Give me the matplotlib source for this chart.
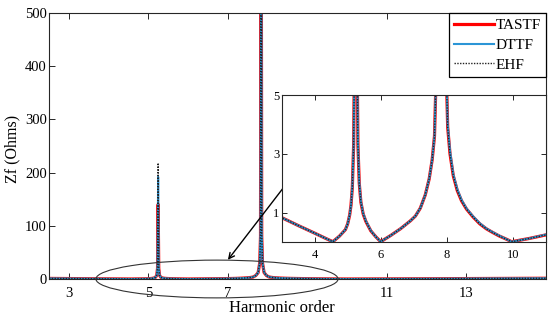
import matplotlib
matplotlib.use("Agg")
import matplotlib.pyplot as plt
from matplotlib.patches import Ellipse

# ---- data ----
harmonic = [2.5, 3.0, 3.5, 4.0, 4.3, 4.55, 4.75, 4.93, 5.0, 5.06, 5.10, 5.14,
            5.18, 5.21, 5.23, 5.245, 5.26, 5.28, 5.31, 5.35, 5.40, 5.47, 5.55,
            5.7, 5.85, 6.0, 6.3, 6.6, 6.9, 7.05, 7.2, 7.35, 7.47, 7.56, 7.63,
            7.70, 7.76, 7.80, 7.82, 7.835, 7.85, 7.87, 7.91, 7.97, 8.03, 8.1,
            8.2, 8.32, 8.45, 8.6, 8.8, 9.0, 9.2, 9.4, 9.6, 9.8, 9.97, 10.5,
            11.0, 12.0, 13.0, 14.0, 15.0]

tastf = [1.10, 0.83, 0.56, 0.30, 0.14, 0.01, 0.20, 0.42, 0.62, 0.92, 1.25, 1.85,
         3.3, 7.0, 20.0, 140.0, 20.0, 7.0, 3.3, 2.0, 1.35, 0.95, 0.70,
         0.38, 0.18, 0.01, 0.22, 0.45, 0.72, 0.88, 1.15, 1.6, 2.15, 2.8, 3.6,
         6.5, 12.0, 30.0, 80.0, 900.0, 80.0, 30.0, 12.0, 6.5, 3.9, 3.0,
         2.25, 1.75, 1.4, 1.12, 0.85, 0.62, 0.45, 0.32, 0.20, 0.10, 0.01, 0.12,
         0.24, 0.50, 0.80, 1.10, 1.40]

dttf = [1.10, 0.83, 0.56, 0.30, 0.14, 0.01, 0.20, 0.42, 0.62, 0.92, 1.25, 1.85,
        3.3, 7.0, 22.0, 192.0, 22.0, 7.2, 3.4, 2.05, 1.38, 0.97, 0.72,
        0.39, 0.18, 0.01, 0.22, 0.45, 0.72, 0.88, 1.15, 1.6, 2.15, 2.8, 3.6,
        6.5, 12.0, 30.0, 85.0, 950.0, 85.0, 31.0, 12.5, 6.7, 4.0, 3.1,
        2.3, 1.8, 1.43, 1.14, 0.87, 0.64, 0.46, 0.33, 0.21, 0.10, 0.01, 0.12,
        0.25, 0.50, 0.80, 1.10, 1.40]

ehf = [1.10, 0.83, 0.56, 0.30, 0.14, 0.01, 0.20, 0.42, 0.62, 0.92, 1.25, 1.85,
       3.3, 7.0, 22.0, 218.0, 22.0, 7.0, 3.3, 2.0, 1.35, 0.95, 0.70,
       0.38, 0.18, 0.01, 0.22, 0.45, 0.72, 0.88, 1.15, 1.6, 2.15, 2.8, 3.6,
       6.5, 12.0, 30.0, 85.0, 1000.0, 85.0, 30.0, 12.0, 6.5, 3.9, 3.0,
       2.25, 1.75, 1.4, 1.12, 0.85, 0.62, 0.45, 0.32, 0.20, 0.10, 0.01, 0.12,
       0.24, 0.50, 0.80, 1.10, 1.40]

main_xticks = [3, 5, 7, 11, 13]
main_yticks = [0, 100, 200, 300, 400, 500]
inset_xticks = [4, 6, 8, 10]
inset_yticks = [1, 3, 5]

series_labels = ["TASTF", "DTTF", "EHF"]

# ---- style ----
plt.rcParams['font.family'] = ['Liberation Serif', 'DejaVu Serif']
RED = '#ff0000'
BLUE = '#2b95d6'
SPINE = '#262626'

fig = plt.figure(figsize=(5.5, 3.16), dpi=100)
ax = fig.add_axes([49/550, 1 - 279/316, 497/550, 266/316])

def draw(a):
    l1, = a.plot(harmonic, tastf, color=RED, lw=2.3, label=series_labels[0])
    l2, = a.plot(harmonic, dttf, color=BLUE, lw=1.5, label=series_labels[1])
    l3, = a.plot(harmonic, ehf, color='#222222', lw=1.0, ls=(0, (1, 1)),
                 label=series_labels[2])
    return l1, l2, l3

lines = draw(ax)
ax.set_xlim(2.5, 15)
ax.set_ylim(0, 500)
ax.set_xticks(main_xticks)
ax.set_yticks(main_yticks)
ax.tick_params(direction='in', top=True, right=True, length=4, width=0.7,
               colors=SPINE, labelcolor='black', labelsize=10.5)
ax.tick_params(axis='x', pad=6)
ax.tick_params(axis='y', pad=1.5)
for s in ax.spines.values():
    s.set_color(SPINE)
    s.set_linewidth(0.8)

ax.set_xlabel("Harmonic order", fontsize=12)
ax.xaxis.set_label_coords((282 - 49) / 497, -0.078)
ax.set_ylabel("Zf (Ohms)", fontsize=11.5)
ax.yaxis.set_label_coords(-0.058, 0.49)

leg = ax.legend(handles=lines, loc='upper right', fontsize=11, frameon=True,
                fancybox=False, framealpha=1, edgecolor='black',
                borderaxespad=0, handlelength=2.6, handletextpad=0.1,
                borderpad=0.35, labelspacing=0.4)
leg.get_frame().set_linewidth(0.9)
leg.set_zorder(10)

# ellipse and arrow
ell = Ellipse((6.725, 0), width=6.09, height=71, facecolor='none',
              edgecolor='#333333', lw=0.8, clip_on=False, zorder=6)
ax.add_patch(ell)
ax.annotate("", xy=(7.0, 36), xytext=(8.4, 172),
            arrowprops=dict(arrowstyle='->', color='black', lw=1.0,
                            mutation_scale=10, shrinkA=0, shrinkB=0), zorder=7)

# inset
axi = fig.add_axes([281.7/550, 1 - 242/316, 264/550, 147/316])
draw(axi)
axi.set_xlim(3, 11)
axi.set_ylim(0, 5)
axi.set_xticks(inset_xticks)
axi.set_yticks(inset_yticks)
axi.tick_params(direction='in', top=True, right=True, length=3.5, width=0.7,
                colors=SPINE, labelcolor='black', labelsize=9)
axi.tick_params(axis='x', pad=5)
axi.tick_params(axis='y', pad=1.5)
for s in axi.spines.values():
    s.set_color(SPINE)
    s.set_linewidth(0.8)

fig.savefig("out.png", dpi=100)
